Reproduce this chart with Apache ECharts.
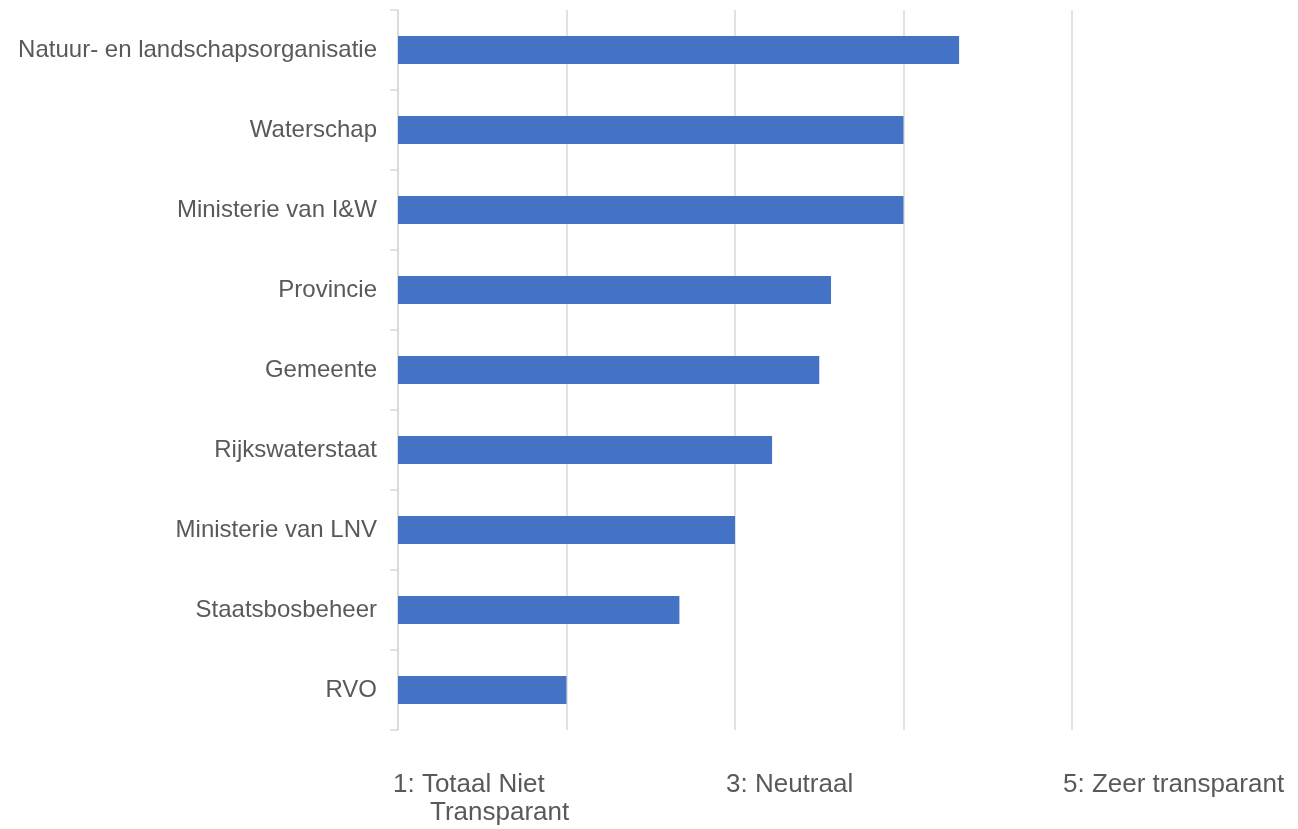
<!DOCTYPE html>
<html>
<head>
<meta charset="utf-8">
<script src="https://cdn.jsdelivr.net/npm/echarts@6/dist/echarts.min.js"></script>
<style>
html,body{margin:0;padding:0;background:#fff;}
#chart{width:1298px;height:829px;}
</style>
</head>
<body>
<div id="chart"></div>
<script>
const categories = [
  'Natuur- en landschapsorganisatie',
  'Waterschap',
  'Ministerie van I&W',
  'Provincie',
  'Gemeente',
  'Rijkswaterstaat',
  'Ministerie van LNV',
  'Staatsbosbeheer',
  'RVO'
];
const values = [4.33, 4.0, 4.0, 3.57, 3.5, 3.22, 3.0, 2.67, 2.0];
const tickValues = [1, 3, 5];
const tickLabels = ['1: Totaal Niet\nTransparant', '3: Neutraal', '5: Zeer transparant'];

const chart = echarts.init(document.getElementById('chart'));
const font = 'Liberation Sans, Arial, sans-serif';

function fmtTick(v) {
  const i = tickValues.indexOf(v);
  if (i < 0) return '';
  const lines = tickLabels[i].split('\n');
  if (lines.length === 1) return '{a|' + lines[0] + '}';
  return '{c|' + lines[0] + '}\n{b|' + lines[1] + '}';
}

chart.setOption({
  animation: false,
  backgroundColor: '#ffffff',
  grid: { left: 398, right: 226, top: 10, bottom: 99, containLabel: false },
  xAxis: {
    type: 'value',
    min: 1,
    max: 5,
    interval: 1,
    axisLine: { show: false },
    axisTick: { show: false },
    splitLine: { show: true, lineStyle: { color: '#d9d9d9', width: 1.5 } },
    axisLabel: {
      show: true,
      align: 'left',
      verticalAlign: 'top',
      margin: 41,
      padding: [0, 0, 0, -9],
      color: '#595959',
      fontFamily: font,
      fontSize: 26,
      formatter: fmtTick,
      rich: {
        a: { color: '#595959', fontFamily: font, fontSize: 26, lineHeight: 28 },
        c: { color: '#595959', fontFamily: font, fontSize: 26, lineHeight: 28, padding: [0, 0, 0, 4] },
        b: { color: '#595959', fontFamily: font, fontSize: 26, lineHeight: 28, padding: [0, 0, 0, 41] }
      }
    }
  },
  yAxis: {
    type: 'category',
    data: categories,
    inverse: true,
    axisLine: { show: true, lineStyle: { color: '#d9d9d9', width: 1.5 } },
    axisTick: { show: true, length: 8, lineStyle: { color: '#d9d9d9', width: 1.5 } },
    axisLabel: {
      margin: 21,
      color: '#595959',
      fontFamily: font,
      fontSize: 24,
      padding: [3, 0, 0, 0]
    },
    splitLine: { show: false }
  },
  series: [{
    type: 'bar',
    data: values,
    barWidth: 28,
    itemStyle: { color: '#4472C4' }
  }]
});
</script>
</body>
</html>
